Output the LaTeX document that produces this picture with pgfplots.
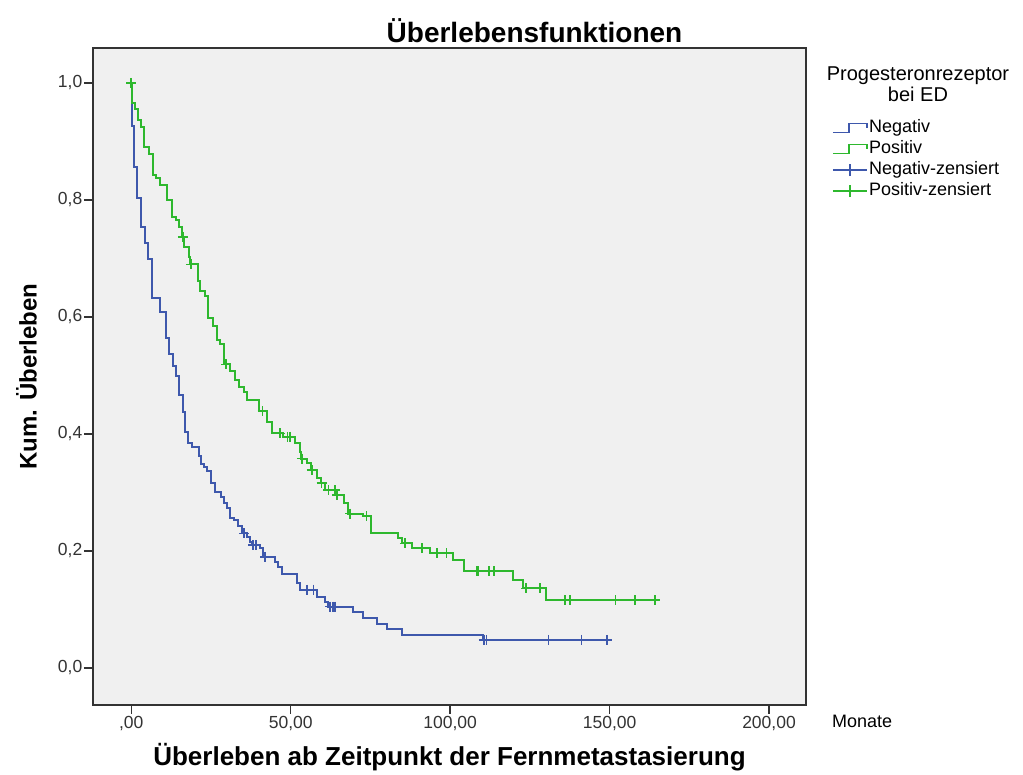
\documentclass[border=0pt]{standalone}
\usepackage{pgfplots}
\pgfplotsset{compat=1.18}
\usepackage{fontspec}
\setmainfont{Liberation Sans}
\definecolor{kmblue}{RGB}{62,88,172}
\definecolor{kmgreen}{RGB}{46,184,46}
\definecolor{plotbg}{RGB}{240,240,240}

\begin{document}
\begin{tikzpicture}
\useasboundingbox (0,0) rectangle (1023pt,774pt);
\begin{axis}[
  at={(93pt,69pt)}, anchor=south west,
  scale only axis, width=713pt, height=657pt,
  xmin=-12, xmax=211.6, ymin=-0.0633, ymax=1.0598,
  axis background/.style={fill=plotbg},
  axis line style={draw=black!80, line width=1.8pt},
  xtick={0,50,100,150,200},
  xticklabels={{,00},{50,00},{100,00},{150,00},{200,00}},
  ytick={0,0.2,0.4,0.6,0.8,1.0},
  yticklabels={{0,0},{0,2},{0,4},{0,6},{0,8},{1,0}},
  xtick pos=bottom, ytick pos=left, tick align=outside,
  major tick length=9pt,
  major tick style={draw=black!80, line width=1.5pt},
  ticklabel style={font=\fontsize{17.5}{20}\selectfont, text=black!80},
  yticklabel style={inner sep=1.5pt},
  xticklabel style={inner sep=2pt},
  xlabel={Überleben ab Zeitpunkt der Fernmetastasierung},
  xlabel style={font=\fontsize{26}{30}\selectfont\bfseries, at={(axis description cs:0.5,-0.0928)}, anchor=base},
  ylabel={Kum. Überleben},
  ylabel style={font=\fontsize{24}{28}\selectfont\bfseries, at={(axis description cs:-0.0792,0.5)}, anchor=base},
  legend style={at={(axis description cs:1.0365,0.8942)}, anchor=north west, draw=none, fill=none,
    inner sep=0pt, outer sep=0pt, row sep=0pt, font=\fontsize{18}{20}\selectfont,
    nodes={inner sep=1.5pt, text height=13.5pt, text depth=4.5pt}},
  legend cell align=left,
]
\addplot[kmblue, line width=2pt, const plot,
  legend image code/.code={\draw[kmblue, line width=1.5pt] (0pt,-4.5pt) -- (16pt,-4.5pt) -- (16pt,4.5pt) -- (34pt,4.5pt) -- (34pt,0pt);}]
coordinates {
(0,1.0)(0.2,0.926)(0.73,0.857)(1.77,0.803)(3.0,0.754)(4.2,0.727)(5.4,0.699)(6.5,0.632)
(8.9,0.624)(9.1,0.609)(11.0,0.564)(11.7,0.536)(13.1,0.516)(14.1,0.499)(15.1,0.467)
(16.2,0.438)(16.9,0.404)(17.9,0.384)(19.0,0.377)(21.1,0.362)(21.8,0.349)(22.9,0.344)
(23.9,0.336)(25.0,0.317)(26.3,0.301)(28.1,0.293)(29.2,0.282)(30.0,0.273)(31.0,0.256)
(32.1,0.253)(33.6,0.242)(34.6,0.230)(36.2,0.224)(37.3,0.216)(38.0,0.210)(40.4,0.205)
(41.3,0.190)(45.1,0.182)(46.1,0.173)(47.2,0.160)(51.9,0.145)(52.9,0.134)(58.1,0.122)
(60.7,0.113)(61.8,0.105)(69.6,0.096)(72.7,0.086)(77.0,0.076)(80.1,0.067)(84.8,0.056)
(110.4,0.048)(149.1,0.048)
};
\addlegendentry{Negativ}
\addplot[kmgreen, line width=2pt, const plot,
  legend image code/.code={\draw[kmgreen, line width=1.5pt] (0pt,-4.5pt) -- (16pt,-4.5pt) -- (16pt,4.5pt) -- (34pt,4.5pt) -- (34pt,0pt);}]
coordinates {
(0,1.0)(0.2,0.966)(1.25,0.955)(2.0,0.937)(3.0,0.925)(4.1,0.891)(5.7,0.879)(6.8,0.843)
(7.8,0.838)(9.1,0.826)(11.2,0.800)(12.8,0.771)(14.1,0.765)(15.1,0.754)(16.0,0.737)
(16.5,0.720)(18.0,0.703)(18.5,0.690)(20.8,0.662)(21.6,0.645)(23.2,0.635)(24.2,0.598)
(25.6,0.584)(26.9,0.561)(27.9,0.553)(29.2,0.519)(31.0,0.507)(32.6,0.492)(33.9,0.480)
(35.4,0.472)(36.4,0.458)(40.2,0.439)(42.5,0.421)(44.1,0.401)(47.5,0.395)(51.4,0.384)
(52.9,0.370)(53.3,0.358)(55.2,0.350)(56.3,0.338)(58.2,0.324)(59.4,0.316)(60.8,0.304)
(64.4,0.296)(66.8,0.282)(68.0,0.264)(72.8,0.259)(75.1,0.230)(83.8,0.222)(84.9,0.213)
(87.9,0.205)(93.7,0.196)(100.9,0.185)(104.2,0.165)(119.8,0.150)(122.9,0.136)(130.2,0.116)
(164.2,0.116)
};
\addlegendentry{Positiv}
\addplot[kmblue, only marks, mark=+, mark size=5pt, mark options={line width=1.6pt},
  legend image code/.code={\draw[kmblue, line width=1.5pt] (0pt,0pt) -- (34pt,0pt) (17pt,-6pt) -- (17pt,6pt);}]
coordinates {
(35.4,0.230)(38.2,0.210)(39.2,0.210)(42.0,0.190)(55.2,0.134)(57.1,0.134)(62.3,0.105)
(63.2,0.105)(63.9,0.105)(110.6,0.048)(111.4,0.048)(130.9,0.048)(141.2,0.048)(149.1,0.048)
};
\addlegendentry{Negativ-zensiert}
\addplot[kmgreen, only marks, mark=+, mark size=5pt, mark options={line width=1.6pt},
  legend image code/.code={\draw[kmgreen, line width=1.5pt] (0pt,0pt) -- (34pt,0pt) (17pt,-6pt) -- (17pt,6pt);}]
coordinates {
(0,1.0)(16.2,0.737)(18.7,0.690)(29.8,0.519)(41.2,0.439)(46.7,0.401)(49.0,0.395)(49.8,0.395)
(53.5,0.358)(56.6,0.338)(59.7,0.316)(61.8,0.304)(63.9,0.304)(64.6,0.296)(68.6,0.264)
(73.8,0.259)(85.8,0.213)(91.1,0.205)(95.8,0.196)(98.9,0.196)(108.3,0.165)(108.8,0.165)
(112.1,0.165)(113.8,0.165)(123.8,0.136)(128.1,0.136)(136.0,0.116)(137.5,0.116)
(151.9,0.116)(157.9,0.116)(164.2,0.116)
};
\addlegendentry{Positiv-zensiert}
\end{axis}
\node[font=\fontsize{28}{32}\selectfont\bfseries, anchor=base] at (534.5pt,731.3pt) {Überlebensfunktionen};
\node[font=\fontsize{18}{20}\selectfont, anchor=base west, inner sep=0pt] at (832pt,46pt) {Monate};
\node[font=\fontsize{20}{21}\selectfont, align=center, anchor=base, inner sep=0pt] at (918pt,672pt) {Progesteronrezeptor\\bei ED};
\end{tikzpicture}
\end{document}
